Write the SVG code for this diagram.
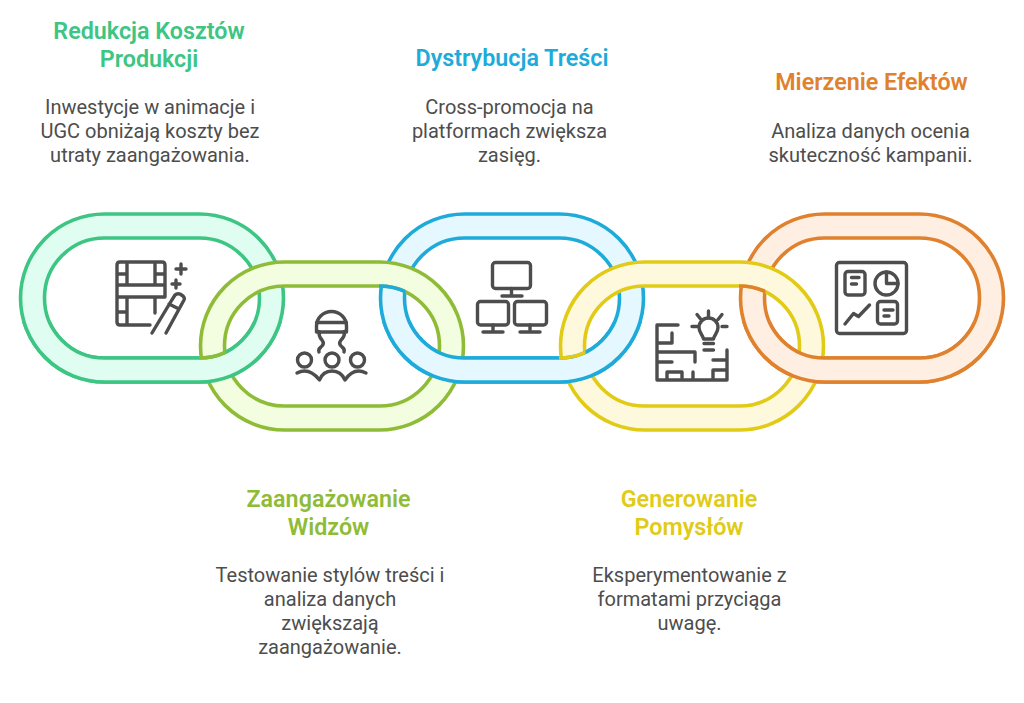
<svg xmlns="http://www.w3.org/2000/svg" xmlns:xlink="http://www.w3.org/1999/xlink" width="1024" height="703" viewBox="0 0 1024 703">
<style>
text{font-family:Roboto,"Liberation Sans",sans-serif;text-anchor:middle}
.t{font-size:23.300px;font-weight:600}
.b{font-size:20px;fill:#4d4d4d}
.band{fill-rule:evenodd;stroke-width:3.600}
.ic{fill:none;stroke:#4d4d4d;stroke-width:3.400;stroke-linecap:round;stroke-linejoin:round}
.e{fill:none;stroke-width:3.600}
.c1{fill:#e0fdf1;stroke:#3cc583}.c2{fill:#f3fde0;stroke:#8fbc37}.c3{fill:#e5f8ff;stroke:#1eabda}.c4{fill:#fef9dc;stroke:#e1cb16}.c5{fill:#ffefe3;stroke:#e0812e}
</style>
<defs>
<path id="ring" class="band" d="M-47.500-84H47.500A84 84 0 0 1 47.500 84H-47.500A84 84 0 0 1-47.500-84ZM-47.500-60H47.500A60 60 0 0 1 47.500 60H-47.500A60 60 0 0 1-47.500-60Z"/>
<path id="inner" d="M-47.500-60H47.500A60 60 0 0 1 47.500 60H-47.500A60 60 0 0 1-47.500-60Z"/>
<clipPath id="lower"><rect x="0" y="322" width="1024" height="381"/></clipPath>
<clipPath id="cap1"><rect x="199" y="340" width="26.500" height="30"/></clipPath>
<clipPath id="cap2"><rect x="379" y="278" width="26.500" height="20"/></clipPath>
<clipPath id="cap3"><rect x="559" y="340" width="26.500" height="30"/></clipPath>
<clipPath id="cap4"><rect x="739" y="278" width="26.500" height="20"/></clipPath>
</defs>
<rect width="1024" height="703" fill="#fff"/>
<g id="node-1">
<use href="#ring" class="c1" transform="translate(152 298)"/>
<path class="ic" d="M150 325H120Q117 325 117 322V265Q117 262 120 262H162Q165 262 165 265V297M117 285H165M117 297H165M127 262V285M155 262V285M127 297V325M155 297V313M117 274H127M155 274H165M117 312H127M181 264V274M176 269H186M176 280V288M172 284H180"/>
<path class="ic" d="M152 333L170 303L175 295Q177 293 180 294L183 296Q185 298 184 300L166 333M169 304L179 309"/>
<text class="t" x="149" y="39" fill="#3cc583">Redukcja Kosztów</text>
<text class="t" x="149" y="67" fill="#3cc583">Produkcji</text>
<text class="b" x="150" y="114">Inwestycje w animacje i</text>
<text class="b" x="150" y="138">UGC obniżają koszty bez</text>
<text class="b" x="150" y="162">utraty zaangażowania.</text>
</g>
<g id="node-3">
<use href="#ring" class="c3" transform="translate(512 298)"/>
<rect class="ic" x="492.500" y="262.500" width="38" height="26" rx="3"/>
<rect class="ic" x="477.500" y="301.500" width="31" height="23.500" rx="3"/>
<rect class="ic" x="514.500" y="301.500" width="32" height="23.500" rx="3"/>
<path class="ic" d="M511.500 288.500V296M502 296H522M493 325V332M483 332H503M530 325V332M520 332H540"/>
<text class="t" x="512" y="66" fill="#1eabda">Dystrybucja Treści</text>
<text class="b" x="509.500" y="114">Cross-promocja na</text>
<text class="b" x="509.500" y="138">platformach zwiększa</text>
<text class="b" x="509.500" y="162">zasięg.</text>
</g>
<g id="node-5">
<use href="#ring" class="c5" transform="translate(872 298)"/>
<rect class="ic" x="836.500" y="262.500" width="70" height="71" rx="3"/>
<rect class="ic" x="845" y="271.500" width="20" height="23.500" rx="3"/>
<rect class="ic" x="877.500" y="301.500" width="20" height="22.500" rx="3"/>
<circle class="ic" cx="886.500" cy="283.500" r="11.500"/>
<path class="ic" d="M886.500 272V283.500H898M851.500 277.500H859M851.500 284H856.500M884 310H893M884 316H889M845 324L853.500 313.500L858.500 316.500L869.500 305"/>
<text class="t" x="871.500" y="90" fill="#e0812e">Mierzenie Efektów</text>
<text class="b" x="870.500" y="138">Analiza danych ocenia</text>
<text class="b" x="870.500" y="162">skuteczność kampanii.</text>
</g>
<g id="node-2">
<use href="#ring" class="c2" transform="translate(332 346)"/>
<path class="ic" d="M316.500 332V326A15 14.500 0 0 1 346.500 326V332M316.500 322.500H346.500M316.500 330Q318 332 321 332H342Q345 332 346.500 330M319 333Q319 337 322 340Q325 344 321 347Q318 349 319 352M344.500 333Q344.500 337 341 340Q338 344 342 347Q345 349 344 352"/>
<circle class="ic" cx="304.500" cy="360" r="7"/>
<circle class="ic" cx="332" cy="360" r="7"/>
<circle class="ic" cx="357.500" cy="360" r="7"/>
<path class="ic" d="M297 373Q309 367 319.500 380Q323 371 332 371Q341 371 345 380Q354 367 366 373"/>
<text class="t" x="328.500" y="507" fill="#8fbc37">Zaangażowanie</text>
<text class="t" x="328.500" y="535" fill="#8fbc37">Widzów</text>
<text class="b" x="330" y="582">Testowanie stylów treści i</text>
<text class="b" x="330" y="606">analiza danych</text>
<text class="b" x="330" y="630">zwiększają</text>
<text class="b" x="330" y="654">zaangażowanie.</text>
</g>
<g id="node-4">
<use href="#ring" class="c4" transform="translate(692 346)"/>
<path class="ic" d="M678 325H657V380H727V350M672 333V343H657M657 352H695V362M657 362H672M667 380V372H682V380M693 372V380M713 360H727M713 370H727M713 370V380"/>
<path class="ic" d="M703.500 339C703 335 699 333 699 327.500A9.500 9.500 0 0 1 718 327.500C718 333 714 335 713.500 339ZM704 343.500H713.500M704 350H713.500M708.500 311V316M697 314.500L701 319.500M722 314.500L718 319.500M692 326.500H697M722 326.500H727"/>
<text class="t" x="689" y="507" fill="#e1cb16">Generowanie</text>
<text class="t" x="689" y="535" fill="#e1cb16">Pomysłów</text>
<text class="b" x="689.500" y="582">Eksperymentowanie z</text>
<text class="b" x="689.500" y="606">formatami przyciąga</text>
<text class="b" x="689.500" y="630">uwagę.</text>
</g>
<g id="crossings">
<g clip-path="url(#lower)">
<use href="#ring" class="c1" transform="translate(152 298)"/>
<use href="#ring" class="c3" transform="translate(512 298)"/>
<use href="#ring" class="c5" transform="translate(872 298)"/>
</g>
<g clip-path="url(#cap1)"><use href="#inner" class="e" stroke="#8fbc37" transform="translate(152 298)"/></g>
<g clip-path="url(#cap2)"><use href="#inner" class="e" stroke="#1eabda" transform="translate(332 346)"/></g>
<g clip-path="url(#cap3)"><use href="#inner" class="e" stroke="#e1cb16" transform="translate(512 298)"/></g>
<g clip-path="url(#cap4)"><use href="#inner" class="e" stroke="#e0812e" transform="translate(692 346)"/></g>
</g>
</svg>
